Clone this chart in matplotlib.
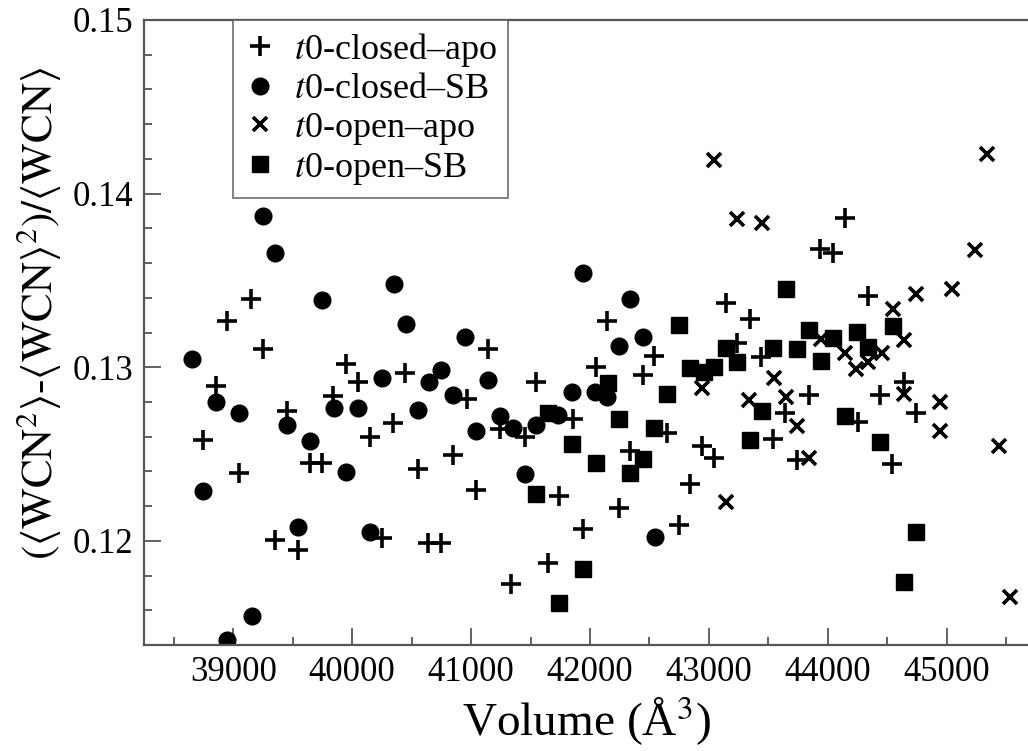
import numpy as np
import matplotlib
matplotlib.use('Agg')
import matplotlib.pyplot as plt
from matplotlib.ticker import MultipleLocator

plt.rcParams['font.family'] = ['Liberation Serif', 'DejaVu Serif']
plt.rcParams['mathtext.fontset'] = 'stix'

# t0-closed-apo (plus)
closed_apo_x = [39150, 38950, 39250, 39945, 40050, 40445, 38855, 39450, 39840, 40345,
                40150, 38750, 39050, 39645, 39745, 40550, 39350, 39545, 40255, 40640,
                40745, 42140, 42540, 42050, 42445, 41145, 41545, 40965, 41240, 41455,
                41860, 42645, 42340, 40845, 41045, 41740, 42245, 41945, 42945, 43040,
                42840, 42745, 41645, 41340, 44145, 43935, 44045, 44340, 43145, 43345,
                43240, 43440, 44640, 43845, 44440, 43640, 44250, 44740, 43540, 43740,
                44540]
closed_apo_y = [0.13393, 0.13266, 0.13103, 0.13018, 0.12913, 0.12965, 0.12893, 0.12749, 0.12836, 0.12680,
                0.12596, 0.12580, 0.12388, 0.12450, 0.12450, 0.12413, 0.12004, 0.11946, 0.12014, 0.11985,
                0.11985, 0.13268, 0.13066, 0.12999, 0.12955, 0.13105, 0.12913, 0.12817, 0.12642, 0.12596,
                0.12700, 0.12619, 0.12517, 0.12494, 0.12292, 0.12259, 0.12187, 0.12071, 0.12548, 0.12475,
                0.12325, 0.12090, 0.11870, 0.11750, 0.13858, 0.13680, 0.13656, 0.13412, 0.13372, 0.13276,
                0.13138, 0.13060, 0.12916, 0.12840, 0.12840, 0.12734, 0.12686, 0.12734, 0.12586, 0.12465,
                0.12442]

# t0-closed-SB (circle)
closed_sb_x = [39250, 39350, 40350, 40450, 39750, 38650, 40255, 40645, 40745, 38855,
               39050, 39450, 39645, 39845, 40050, 40550, 38750, 39950, 39545, 40150,
               39155, 38950, 41945, 42340, 42445, 42245, 40950, 41145, 41845, 42040,
               42140, 40845, 41245, 41350, 41045, 41550, 41735, 41450, 42545]
closed_sb_y = [0.13871, 0.13660, 0.13478, 0.13249, 0.13387, 0.13047, 0.12936, 0.12916, 0.12984, 0.12798,
               0.12734, 0.12667, 0.12576, 0.12763, 0.12763, 0.12753, 0.12288, 0.12398, 0.12081, 0.12052,
               0.11568, 0.11428, 0.13541, 0.13391, 0.13172, 0.13124, 0.13172, 0.12926, 0.12859, 0.12859,
               0.12830, 0.12840, 0.12719, 0.12648, 0.12634, 0.12667, 0.12724, 0.12383, 0.12020]

# t0-open-apo (x)
open_apo_x = [43040, 42940, 45340, 43240, 43445, 45240, 45040, 44740, 44545, 44640,
              43940, 44145, 44455, 44235, 44340, 43550, 43340, 43645, 44640, 44940,
              43740, 44940, 43845, 45440, 43145, 45530]
open_apo_y = [0.14194, 0.12878, 0.14229, 0.13852, 0.13833, 0.13676, 0.13449, 0.13422, 0.13335, 0.13157,
              0.13161, 0.13084, 0.13080, 0.12988, 0.13028, 0.12936, 0.12811, 0.12830, 0.12846, 0.12801,
              0.12663, 0.12634, 0.12475, 0.12546, 0.12225, 0.11674]

# t0-open-SB (square)
open_sb_x = [42745, 42155, 42840, 42955, 43040, 42645, 41650, 42245, 42540, 41845,
             42050, 42450, 42340, 41545, 41945, 41740, 43645, 44545, 43845, 44040,
             44245, 44340, 43540, 43740, 43145, 43240, 43940, 43445, 44145, 43345,
             44440, 44740, 44640]
open_sb_y = [0.13243, 0.12907, 0.12994, 0.12974, 0.13003, 0.12846, 0.12734, 0.12700, 0.12648, 0.12557,
             0.12446, 0.12471, 0.12392, 0.12267, 0.11837, 0.11643, 0.13449, 0.13239, 0.13214, 0.13167,
             0.13205, 0.13118, 0.13109, 0.13105, 0.13109, 0.13028, 0.13037, 0.12749, 0.12719, 0.12580,
             0.12567, 0.12052, 0.11764]

fig = plt.figure(figsize=(10.28, 7.51), dpi=100)
ax = fig.add_axes([144 / 1028, 106 / 751, 886 / 1028, 625 / 751])

ax.plot(closed_apo_x, closed_apo_y, linestyle='none', marker='+', color='k',
        markersize=14, markeredgewidth=2.6, label='$t$0-closed\u2013apo')
ax.plot(closed_sb_x, closed_sb_y, linestyle='none', marker='o', color='k',
        markersize=12, label='$t$0-closed\u2013SB')
ax.plot(open_apo_x, open_apo_y, linestyle='none', marker='x', color='k',
        markersize=10, markeredgewidth=2.6, label='$t$0-open\u2013apo')
ax.plot(open_sb_x, open_sb_y, linestyle='none', marker='s', color='k',
        markersize=11, label='$t$0-open\u2013SB')

ax.set_xlim(38250, 45700)
ax.set_ylim(0.114, 0.15)
ax.xaxis.set_major_locator(MultipleLocator(1000))
ax.xaxis.set_minor_locator(MultipleLocator(500))
ax.yaxis.set_major_locator(MultipleLocator(0.01))
ax.yaxis.set_minor_locator(MultipleLocator(0.002))
ax.yaxis.set_major_formatter(plt.FormatStrFormatter('%.2f'))

ax.tick_params(which='both', direction='in', color='#555555', width=1.3,
               top=False, right=False, labelsize=25, pad=8)
ax.tick_params(which='major', length=12)
ax.tick_params(which='minor', length=6)
for sp in ax.spines.values():
    sp.set_color('#555555')
    sp.set_linewidth(1.6)

ax.set_xlabel('Volume (Å$^3$)', fontsize=34, labelpad=4)
ax.set_ylabel(r'$(\langle\mathrm{WCN}^2\rangle$-$\langle\mathrm{WCN}\rangle^2)/\langle\mathrm{WCN}\rangle$',
              fontsize=31)
ax.yaxis.set_label_coords(-0.09, 0.53)

leg = ax.legend(loc='upper left', bbox_to_anchor=((233 - 144) / 886, 1.0), borderaxespad=0,
                fontsize=26, frameon=True, fancybox=False, labelspacing=0.12,
                handletextpad=0.5, borderpad=0.3, handlelength=0.9)
leg.get_frame().set_edgecolor('#555555')
leg.get_frame().set_linewidth(1.3)

fig.savefig('out.png', dpi=100)
